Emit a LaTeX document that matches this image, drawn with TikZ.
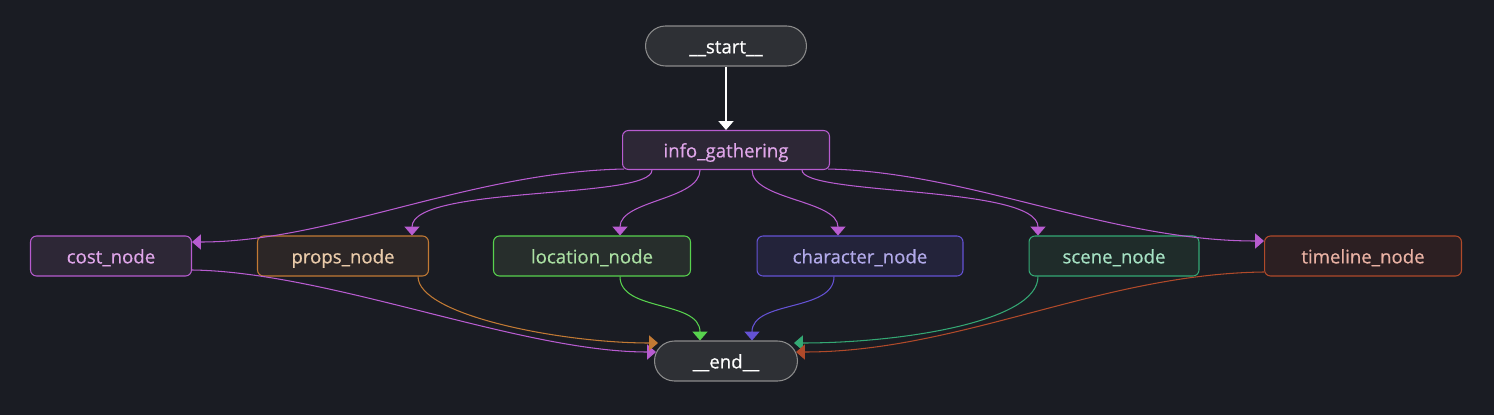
\documentclass[tikz,border=0pt]{standalone}
\usepackage{fontspec}
\setmainfont{Open Sans}[FakeBold=0.5]
\usetikzlibrary{arrows.meta,calc}

\definecolor{bgcol}{HTML}{1A1C23}
\definecolor{termfill}{HTML}{2E3035}
\definecolor{termline}{HTML}{8C8C8C}
\definecolor{purpline}{HTML}{B85CD0}
\definecolor{purpfill}{HTML}{2D2736}
\definecolor{purptext}{HTML}{E0A6EA}
\definecolor{orline}{HTML}{C27A34}
\definecolor{orfill}{HTML}{2C2626}
\definecolor{ortext}{HTML}{EACBAA}
\definecolor{grline}{HTML}{58D24E}
\definecolor{grfill}{HTML}{272E2C}
\definecolor{grtext}{HTML}{AADFA2}
\definecolor{blline}{HTML}{6452D4}
\definecolor{blfill}{HTML}{23233A}
\definecolor{bltext}{HTML}{B2AAEA}
\definecolor{tqline}{HTML}{34A874}
\definecolor{tqfill}{HTML}{1F2C2A}
\definecolor{tqtext}{HTML}{A6E2C4}
\definecolor{rdline}{HTML}{B04A2A}
\definecolor{rdfill}{HTML}{2C1F22}
\definecolor{rdtext}{HTML}{EAB2A4}

\begin{document}
\begin{tikzpicture}[x=0.02cm,y=-0.02cm,
    box/.style={draw,line width=0.6pt,rounded corners=0.12cm,minimum height=0.8cm,
      inner sep=0pt,text height=9pt,text depth=0.6pt,font=\fontsize{10.6}{12}\selectfont},
    term/.style={box,draw=termline,fill=termfill,text=white,rounded corners=0.4cm},
    purpbox/.style={box,draw=purpline,fill=purpfill,text=purptext},
    link/.style={line width=0.6pt,-{Triangle[width=8.5pt,length=5pt]}}]

    % background and frame
    \fill[bgcol] (0,0) rectangle (1494,415);
    \useasboundingbox (0,0) rectangle (1494,415);

    % terminals
    \node[term,minimum width=3.22cm] (start) at (726,46) {\_\_start\_\_};
    \node[term,minimum width=2.86cm] (end) at (726,361) {\_\_end\_\_};

    % gathering step
    \node[purpbox,minimum width=4.14cm,minimum height=0.78cm] (info) at (726,150) {info\_gathering};

    % worker nodes
    \node[purpbox,minimum width=3.22cm] (cost) at (111,256) {cost\_node};
    \node[box,draw=orline,fill=orfill,text=ortext,minimum width=3.42cm] (props) at (343,256) {props\_node};
    \node[box,draw=grline,fill=grfill,text=grtext,minimum width=3.94cm] (location) at (592,256) {location\_node};
    \node[box,draw=blline,fill=blfill,text=bltext,minimum width=4.12cm] (character) at (860,256) {character\_node};
    \node[box,draw=tqline,fill=tqfill,text=tqtext,minimum width=3.40cm] (scene) at (1114,256) {scene\_node};
    \node[box,draw=rdline,fill=rdfill,text=rdtext,minimum width=3.94cm] (timeline) at (1363,256) {timeline\_node};

    % start to gathering
    \draw[link,white] (start) -- (info);

    % gathering out to the workers
    \draw[link,purpline] ($(info.south west)+(2,-1)$) .. controls (470,172) and (330,242) .. ($(cost.east)+(0,-14)$);
    \draw[link,purpline] ($(info.south)+(-74,0)$) .. controls (652,200) and (412,185) .. ($(props.north)+(69,0)$);
    \draw[link,purpline] ($(info.south)+(-26,0)$) .. controls (700,200) and (620,200) .. ($(location.north)+(28,0)$);
    \draw[link,purpline] ($(info.south)+(26,0)$) .. controls (752,200) and (838,200) .. ($(character.north)+(-22,0)$);
    \draw[link,purpline] ($(info.south)+(76,0)$) .. controls (802,196) and (1038,185) .. ($(scene.north)+(-76,0)$);
    \draw[link,purpline] ($(info.south east)+(-2,-1)$) .. controls (970,172) and (1110,241) .. ($(timeline.west)+(0,-15)$);

    % workers back to the end
    \draw[link,purpline] ($(cost.east)+(0,14)$) .. controls (330,272) and (520,352) .. ($(end.west)+(2,-9)$);
    \draw[link,orline] ($(props.south)+(75,0)$) .. controls (418,315) and (560,343) .. ($(end.west)+(4,-18)$);
    \draw[link,grline] ($(location.south)+(28,0)$) .. controls (620,312) and (700,300) .. ($(end.north)+(-26,0)$);
    \draw[link,blline] ($(character.south)+(-26,0)$) .. controls (834,312) and (752,300) .. ($(end.north)+(26,0)$);
    \draw[link,tqline] ($(scene.south)+(-76,0)$) .. controls (1038,322) and (900,343) .. ($(end.east)+(-4,-18)$);
    \draw[link,rdline] ($(timeline.west)+(0,16)$) .. controls (1100,274) and (960,352) .. ($(end.east)+(-2,-9)$);

\end{tikzpicture}
\end{document}
